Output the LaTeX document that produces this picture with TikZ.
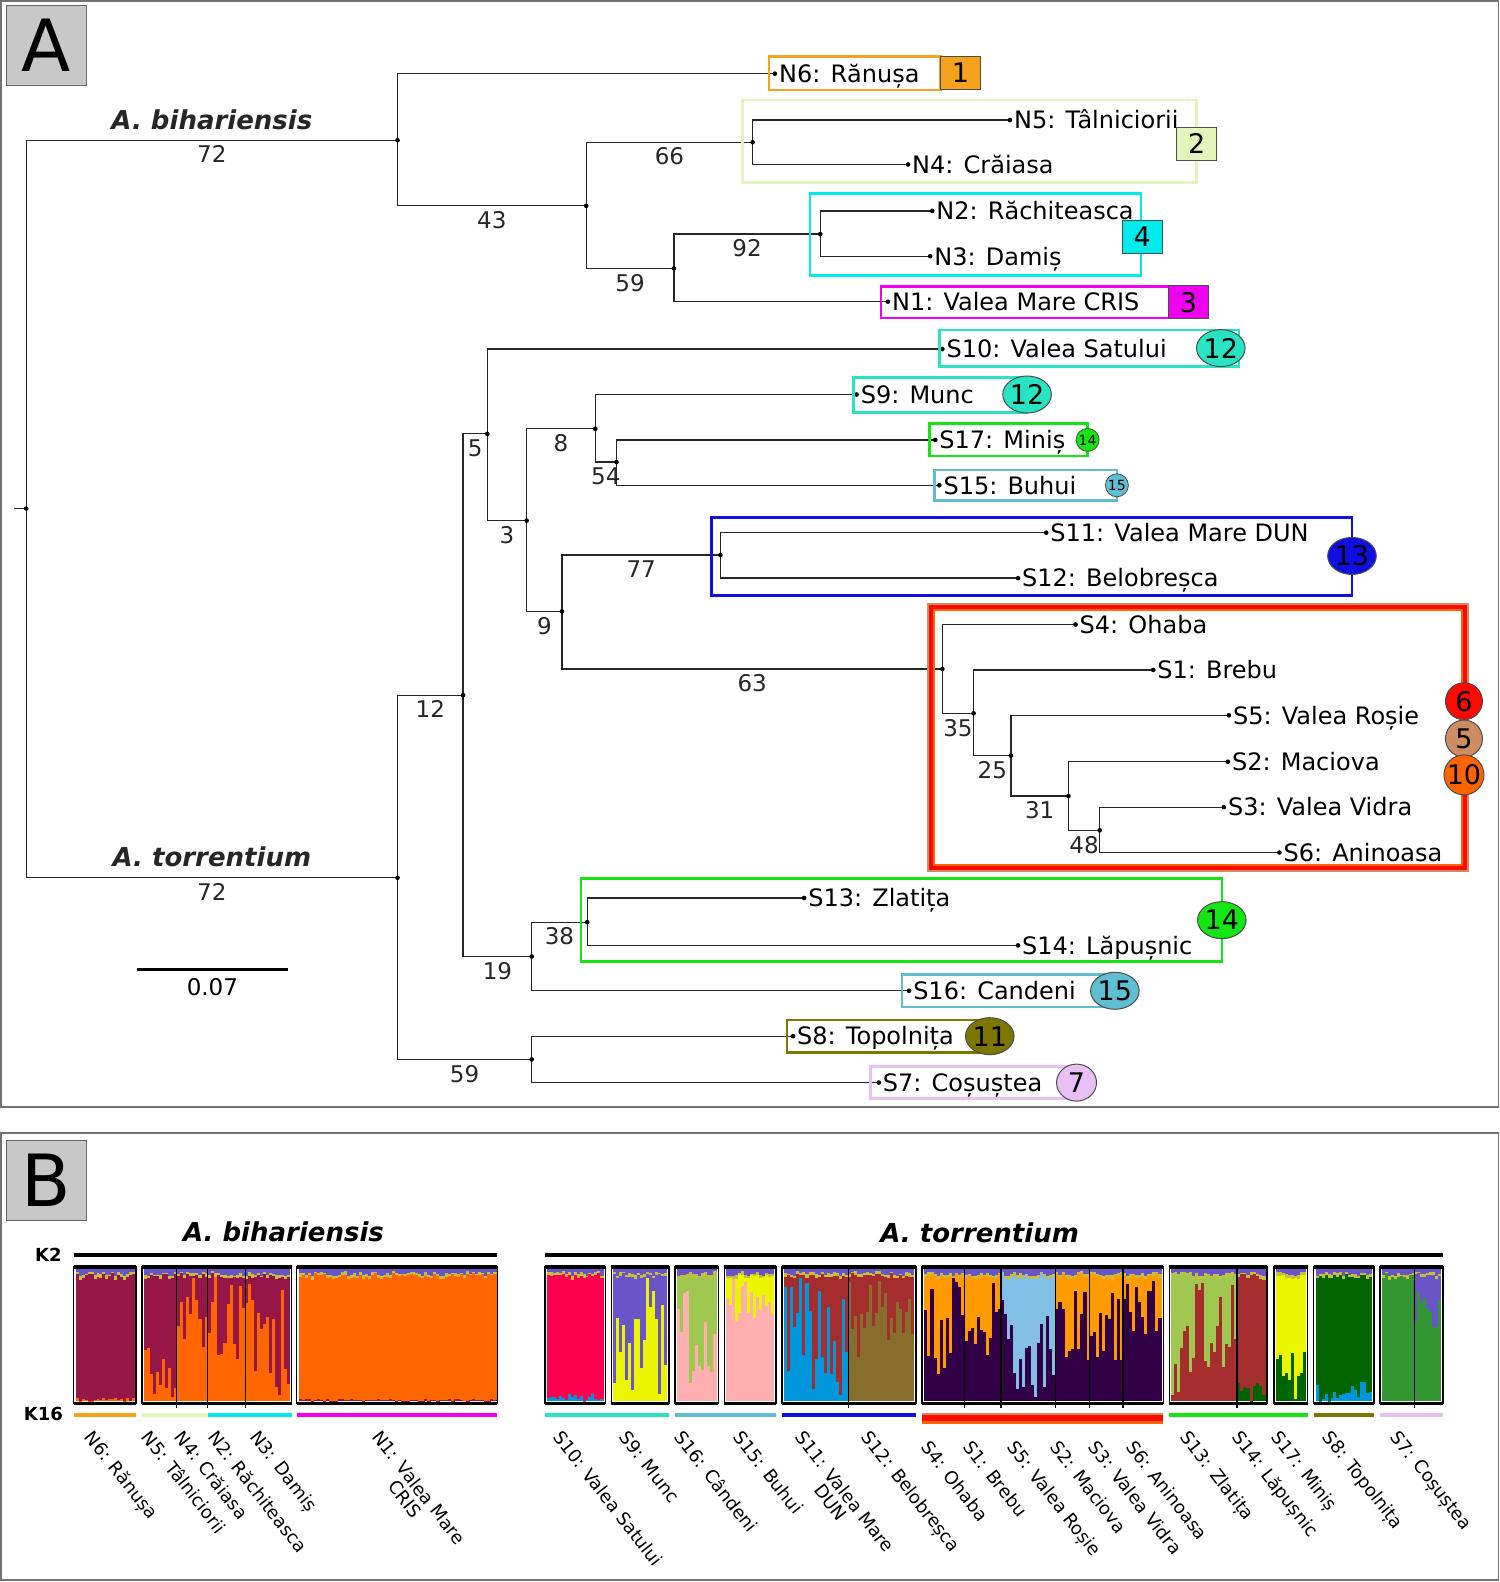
\documentclass[tikz,border=0pt]{standalone}
\usepackage{fontspec}
\setmainfont{DejaVu Sans}[BoldFont={DejaVu Sans Bold}, ItalicFont={DejaVu Sans Oblique}, BoldItalicFont={DejaVu Sans Bold Oblique}]
\usetikzlibrary{shapes.geometric}

\newcommand{\fsz}[1]{\fontsize{#1}{#1}\selectfont}

% tree colours
\definecolor{colN6}{RGB}{247,162,28}
\definecolor{colN45}{RGB}{226,246,188}
\definecolor{colN23}{RGB}{0,236,236}
\definecolor{colN1}{RGB}{240,0,240}
\definecolor{colS10}{RGB}{40,228,195}
\definecolor{colGreen}{RGB}{20,230,20}
\definecolor{colS15}{RGB}{95,190,210}
\definecolor{colS11}{RGB}{15,15,225}
\definecolor{colSR}{RGB}{250,10,0}
\definecolor{colST}{RGB}{205,140,100}
\definecolor{colSO}{RGB}{255,100,0}
\definecolor{colS8}{RGB}{125,118,0}
\definecolor{colS7}{RGB}{232,192,245}
\definecolor{labgray}{RGB}{200,200,200}
% structure colours
\definecolor{kmaroon}{RGB}{150,22,72}
\definecolor{kor}{RGB}{255,102,0}
\definecolor{kred}{RGB}{255,0,80}
\definecolor{kpurple}{RGB}{105,85,200}
\definecolor{kyellow}{RGB}{235,245,0}
\definecolor{kpink}{RGB}{255,175,175}
\definecolor{klgreen}{RGB}{160,200,80}
\definecolor{kbrown}{RGB}{165,45,45}
\definecolor{kblue}{RGB}{0,150,220}
\definecolor{kolive}{RGB}{135,110,45}
\definecolor{kdark}{RGB}{50,0,70}
\definecolor{kamber}{RGB}{255,155,0}
\definecolor{kdgreen}{RGB}{0,100,0}
\definecolor{kgreen}{RGB}{50,150,50}
\definecolor{klblue}{RGB}{130,190,230}
\definecolor{kfringe}{RGB}{200,190,60}

\tikzset{
  branch/.style={line width=1.3pt, black!85},
  leaf/.style={anchor=west, inner sep=4pt, font=\fsz{24}, text height=17.5pt, text depth=0pt},
  boot/.style={below=5pt, inner sep=0pt, font=\fsz{23}},
  species/.style={above=10pt, inner sep=0pt, font=\fsz{26}\bfseries\itshape},
  boxline/.style={line width=2.6pt},
  sqbadge/.style={rectangle, draw=black!70, line width=1pt, minimum width=40pt, minimum height=33pt, inner sep=0pt, font=\fsz{27}},
  elbadge/.style={ellipse, draw=black!70, line width=1pt, minimum width=40pt, minimum height=37pt, inner sep=0pt, font=\fsz{27}},
  dotbadge/.style={circle, draw=black!70, line width=0.8pt, minimum size=23pt, inner sep=0pt, font=\fsz{14}},
  rbadge/.style={circle, draw=black!70, line width=1pt, minimum size=37pt, inner sep=0pt, font=\fsz{27}},
  rotlab/.style={rotate=-52, anchor=north west, inner sep=0pt, font=\fsz{18}, align=center},
  panelline/.style={draw=black!55, line width=1.5pt},
  panlab/.style={draw=black!60, fill=labgray, line width=1pt, minimum width=80pt, minimum height=80pt, inner sep=0pt, font=\fsz{72}},
  kline/.style={line width=4pt},
}

% one population of the structure plot
\newcommand{\kpop}[7]{%
  \pgfmathsetmacro{\kw}{(#2-#1)/#3}
  \foreach \k in {1,...,#3}{
    \pgfmathsetmacro{\kx}{#1+(\k-1)*\kw}
    \pgfmathsetmacro{\kh}{131*(#6+(#7-#6)*rnd)}
    \pgfmathsetmacro{\kf}{2+5*rnd}
    \fill[#4] (\kx,1258) rectangle ++(\kw+0.3,131);
    \fill[#5] (\kx,1389) rectangle ++(\kw+0.3,-\kh);
    \fill[kpurple] (\kx,1258) rectangle ++(\kw+0.3,\kf);
    \fill[kfringe] (\kx,1258+\kf) rectangle ++(\kw+0.3,1+3*rnd);
  }}
\newcommand{\kframe}[2]{%
  \draw[line width=1.6pt] (#1,1256) rectangle (#2,1391);
  \draw[line width=3.5pt] (#1,1256) -- (#2,1256) (#1,1391) -- (#2,1391);}

\begin{document}
\begin{tikzpicture}[x=1.009pt, y=-1.009pt]
\useasboundingbox (0,0) rectangle (1486,1568);

% panel A
\draw[panelline] (1,1) rectangle (1485,1097);
\node[panlab] (labA) at (46,45) {A};

\coordinate (rootstub) at (14,504);
\coordinate (root) at (26,504);
\coordinate (nBih) at (394,139);
\coordinate (nTor) at (394,870);
\coordinate (n43) at (581,204);
\coordinate (n66) at (746,141);
\coordinate (n59a) at (668,266);
\coordinate (n92) at (813,232);
\coordinate (n12) at (459,689);
\coordinate (n5) at (483,430);
\coordinate (n3) at (522,516);
\coordinate (n8) at (590,425);
\coordinate (n54) at (611,458);
\coordinate (n9) at (557,606);
\coordinate (n77) at (714,550);
\coordinate (n63) at (934,663);
\coordinate (n35) at (965,707);
\coordinate (n25) at (1002,749);
\coordinate (n31) at (1059,789);
\coordinate (n48) at (1090,823);
\coordinate (n19) at (527,948);
\coordinate (n38) at (582,914);
\coordinate (n59b) at (527,1050);

\node[leaf] (N6) at (768,73) {N6: Rănușa};
\node[leaf] (N5) at (1001,119) {N5: Tâlniciorii};
\node[leaf] (N4) at (900,163) {N4: Crăiasa};
\node[leaf] (N2) at (924,209) {N2: Răchiteasca};
\node[leaf] (N3) at (922,254) {N3: Damiș};
\node[leaf] (N1) at (880,299) {N1: Valea Mare CRIS};
\node[leaf] (S10) at (934,346) {S10: Valea Satului};
\node[leaf] (S9) at (849,391) {S9: Munc};
\node[leaf] (S17) at (927,436) {S17: Miniș};
\node[leaf] (S15) at (931,481) {S15: Buhui};
\node[leaf] (S11) at (1037,528) {S11: Valea Mare DUN};
\node[leaf] (S12) at (1009,573) {S12: Belobreșca};
\node[leaf] (S4) at (1066,619) {S4: Ohaba};
\node[leaf] (S1) at (1143,664) {S1: Brebu};
\node[leaf] (S5) at (1218,709) {S5: Valea Roșie};
\node[leaf] (S2) at (1217,755) {S2: Maciova};
\node[leaf] (S3) at (1213,800) {S3: Valea Vidra};
\node[leaf] (S6) at (1268,845) {S6: Aninoasa};
\node[leaf] (S13) at (797,890) {S13: Zlatița};
\node[leaf] (S14) at (1009,937) {S14: Lăpușnic};
\node[leaf] (S16) at (901,982) {S16: Candeni};
\node[leaf] (S8) at (786,1027) {S8: Topolnița};
\node[leaf] (S7) at (871,1073) {S7: Coșuștea};

\draw[branch] (rootstub) -- (root);
\draw[branch] (root) |- (nBih) node[boot,pos=0.75] {72} node[species,pos=0.75] {A. bihariensis};
\draw[branch] (root) |- (nTor) node[boot,pos=0.75] {72} node[species,pos=0.75] {A. torrentium};
\foreach \a/\b/\v in {nBih/n43/43, n43/n66/66, n43/n59a/59, n59a/n92/92,
    nTor/n12/12, nTor/n59b/59, n12/n5/5, n12/n19/19, n5/n3/3, n3/n8/8, n3/n9/9,
    n8/n54/54, n9/n77/77, n9/n63/63, n63/n35/35, n35/n25/25, n25/n31/31,
    n31/n48/48, n19/n38/38}
  \draw[branch] (\a) |- (\b) node[boot,pos=0.75] {\v};
\foreach \a/\b in {nBih/N6, n66/N5, n66/N4, n92/N2, n92/N3, n59a/N1, n5/S10,
    n8/S9, n54/S17, n54/S15, n77/S11, n77/S12, n63/S4, n35/S1, n25/S5, n31/S2,
    n48/S3, n48/S6, n38/S13, n38/S14, n19/S16, n59b/S8, n59b/S7}
  \draw[branch] (\a) |- (\b.west);
\foreach \p in {root, nBih, nTor, n43, n66, n59a, n92, n12, n5, n3, n8, n54, n9,
    n77, n63, n35, n25, n31, n48, n19, n38, n59b, N6.west, N5.west, N4.west,
    N2.west, N3.west, N1.west, S10.west, S9.west, S17.west, S15.west, S11.west,
    S12.west, S4.west, S1.west, S5.west, S2.west, S3.west, S6.west, S13.west,
    S14.west, S16.west, S8.west, S7.west}
  \fill[black] (\p) circle (2.3);

% population boxes
\draw[boxline, colN6] (762,56) rectangle (932,89);
\draw[boxline, colN45] (736,99) rectangle (1186,181);
\draw[boxline, colN23] (803,192) rectangle (1131,273);
\draw[boxline, colN1] (873,284) rectangle (1160,315);
\draw[boxline, colS10] (931,327) rectangle (1228,363);
\draw[boxline, colS10] (846,374) rectangle (1018,409);
\draw[boxline, colGreen] (921,420) rectangle (1078,452);
\draw[boxline, colS15] (926,466) rectangle (1107,496);
\draw[boxline, colS11] (705,513) rectangle (1340,590);
\draw[line width=2pt, colST] (920,599) rectangle (1455,863);
\draw[line width=4pt, colSR] (923,602) rectangle (1452,860);
\draw[line width=2pt, colSO] (926,605) rectangle (1449,857);
\draw[boxline, colGreen] (576,871) rectangle (1211,953);
\draw[boxline, colS15] (894,966) rectangle (1105,998);
\draw[boxline, colS8] (780,1011) rectangle (981,1043);
\draw[boxline, colS7] (863,1057) rectangle (1067,1089);

\node[sqbadge, fill=colN6] (b1) at (952,72.5) {1};
\node[sqbadge, fill=colN45] (b2) at (1186,142.5) {2};
\node[sqbadge, fill=colN23] (b4) at (1132,234.5) {4};
\node[sqbadge, fill=colN1] (b3) at (1178,299.5) {3};
\node[elbadge, fill=colS10] (b12a) at (1210,345) {12};
\node[elbadge, fill=colS10] (b12b) at (1018,391) {12};
\node[dotbadge, fill=colGreen] (b14a) at (1078,436) {14};
\node[dotbadge, fill=colS15] (b15a) at (1107,481) {15};
\node[elbadge, fill=colS11] (b13) at (1340,551) {13};
\node[rbadge, fill=colSR] (b6) at (1451,695) {6};
\node[rbadge, fill=colST] (b5) at (1451,732) {5};
\node[rbadge, fill=colSO] (b10) at (1451,768) {10};
\node[elbadge, fill=colGreen] (b14b) at (1211,912) {14};
\node[elbadge, fill=colS15] (b15b) at (1105,982) {15};
\node[elbadge, fill=colS8] (b11) at (981,1027) {11};
\node[elbadge, fill=colS7] (b7) at (1067,1073) {7};

% scale bar
\coordinate (sbL) at (136,961);
\coordinate (sbR) at (285,961);
\draw[line width=3pt] (sbL) -- (sbR) node[midway, below=7pt, inner sep=0pt, font=\fsz{23}] (sbtext) {0.07};

% panel B
\draw[panelline] (1,1123) rectangle (1485,1566);
\node[panlab] (labB) at (46,1170) {B};
\node[font=\fsz{26}\bfseries\itshape] (spB1) at (281,1221) {A. bihariensis};
\node[font=\fsz{26}\bfseries\itshape] (spB2) at (971,1222) {A. torrentium};
\node[font=\fsz{18}\bfseries] (k2) at (48,1244) {K2};
\node[font=\fsz{18}\bfseries] (k16) at (43,1401) {K16};
\draw[kline] (73,1244) -- (493,1244);
\draw[kline] (540,1244) -- (1430,1244);

\pgfmathsetseed{7}
\kpop{75}{134}{20}{kmaroon}{kor}{0}{0.03}
\kpop{143}{175}{11}{kmaroon}{kor}{0}{0.5}
\kpop{175}{206}{10}{kmaroon}{kor}{0.4}{1}
\kpop{206}{243}{12}{kmaroon}{kor}{0.3}{1}
\kpop{243}{287}{15}{kmaroon}{kor}{0}{0.9}
\kpop{296}{492}{66}{kor}{kmaroon}{0}{0.02}
\kpop{542}{598}{19}{kred}{kblue}{0}{0.06}
\kpop{608}{661}{18}{kpurple}{kyellow}{0}{1}
\kpop{671}{710}{13}{klgreen}{kpink}{0.1}{1}
\kpop{720}{767}{16}{kyellow}{kpink}{0.5}{1}
\kpop{777}{841}{21}{kbrown}{kblue}{0}{0.95}
\kpop{841}{906}{22}{kbrown}{kolive}{0.3}{0.95}
\kpop{916}{956}{13}{kamber}{kdark}{0.2}{1}
\kpop{956}{992}{12}{kamber}{kdark}{0.3}{0.9}
\kpop{992}{1046}{18}{klblue}{kdark}{0}{0.8}
\kpop{1046}{1080}{11}{kamber}{kdark}{0.3}{0.9}
\kpop{1080}{1113}{11}{kamber}{kdark}{0.3}{0.9}
\kpop{1113}{1151}{13}{kamber}{kdark}{0.5}{0.95}
\kpop{1161}{1226}{22}{klgreen}{kbrown}{0}{0.9}
\kpop{1226}{1254}{9}{kbrown}{kdgreen}{0}{0.15}
\kpop{1265}{1294}{10}{kyellow}{kdgreen}{0}{0.4}
\kpop{1304}{1360}{19}{kdgreen}{kblue}{0}{0.15}
\kpop{1370}{1402}{11}{kgreen}{kgreen}{0}{0}
\kpop{1402}{1428}{9}{kpurple}{kgreen}{0.5}{0.9}

\foreach \xl/\xr in {73/135, 141/289, 294/493, 540/600, 606/663, 669/712,
    718/769, 775/908, 914/1153, 1159/1256, 1263/1296, 1302/1362, 1368/1430}
  \kframe{\xl}{\xr}
\foreach \s in {175, 206, 243, 841, 956, 992, 1046, 1080, 1113, 1226, 1402}
  \draw[line width=1.3pt] (\s,1257) -- (\s,1396);

% population underlines
\draw[kline, colN6] (73,1402) -- (135,1402);
\draw[kline, colN45] (141,1402) -- (206,1402);
\draw[kline, colN23] (206,1402) -- (289,1402);
\draw[kline, colN1] (294,1402) -- (493,1402);
\draw[kline, colS10] (540,1402) -- (663,1402);
\draw[kline, colS15] (669,1402) -- (769,1402);
\draw[kline, colS11] (775,1402) -- (908,1402);
\fill[colST] (914,1400) rectangle (1153,1411);
\fill[colSR] (914,1402.5) rectangle (1153,1408);
\fill[colSO] (914,1408) rectangle (1153,1411);
\draw[kline, colGreen] (1159,1402) -- (1296,1402);
\draw[kline, colS8] (1302,1402) -- (1362,1402);
\draw[kline, colS7] (1368,1402) -- (1430,1402);

% rotated population names
\foreach \lx/\ly/\lab [count=\i] in {94/1416/N6: Rănușa, 151/1416/N5: Tâlniciorii,
    183/1416/N4: Crăiasa, 216/1416/N2: Răchiteasca, 258/1416/N3: Damiș,
    558/1416/S10: Valea Satului, 623/1416/S9: Munc, 679/1416/S16: Cândeni,
    737/1416/S15: Buhui, 864/1416/S12: Belobreșca, 923/1426/S4: Ohaba,
    965/1426/S1: Brebu, 1008/1426/S5: Valea Roșie, 1051/1426/S2: Maciova,
    1089/1426/S3: Valea Vidra, 1126/1426/S6: Aninoasa, 1180/1416/S13: Zlatița,
    1231/1416/S14: Lăpușnic, 1270/1416/S17: Miniș, 1321/1416/S8: Topolnița,
    1388/1416/S7: Coșuștea}
  \node[rotlab] (pop\i) at (\lx,\ly) {\lab};
\node[rotlab] (popN1) at (379,1416) {N1: Valea Mare\\CRIS};
\node[rotlab] (popS11) at (798,1416) {S11: Valea Mare\\DUN};
\end{tikzpicture}
\end{document}
